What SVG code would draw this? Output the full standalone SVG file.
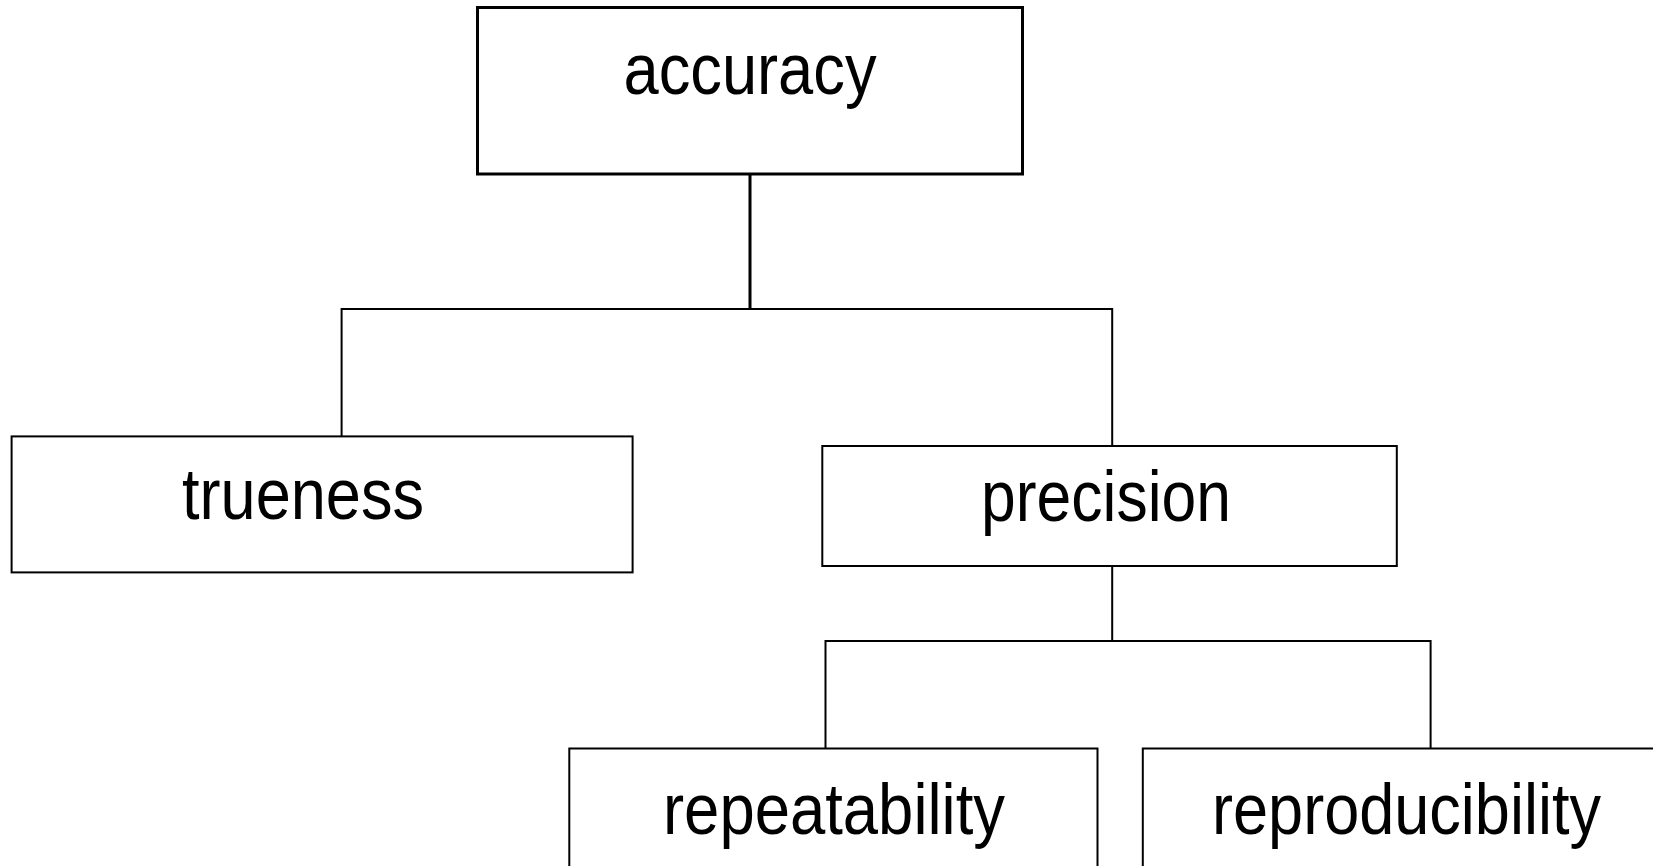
<svg xmlns="http://www.w3.org/2000/svg" width="1653" height="866" viewBox="0 0 1653 866">
<style>
.box{fill:#fff;stroke:#000;stroke-width:2}
.main{stroke-width:3}
.lbl{font-family:"Liberation Sans",Arial,sans-serif;font-size:72px;fill:#000}
.con{fill:none;stroke:#000;stroke-width:2}
</style>
<rect width="1653" height="866" fill="#fff"/>
<g id="connectors">
<path class="con" style="stroke-width:3" d="M750,174 V309"/>
<path class="con" d="M341.6,436 V309 H1112.2 V446"/>
<path class="con" d="M1112.2,566 V641"/>
<path class="con" d="M825.5,748.5 V641 H1430.6 V748.5"/>
</g>
<g id="accuracy">
<rect class="box main" x="477.5" y="7.5" width="545" height="166.5"/>
<text class="lbl" x="623.5" y="94" textLength="253" lengthAdjust="spacingAndGlyphs">accuracy</text>
</g>
<g id="trueness">
<rect class="box" x="11.6" y="436.4" width="621" height="136"/>
<text class="lbl" x="182" y="518.5" textLength="242" lengthAdjust="spacingAndGlyphs">trueness</text>
</g>
<g id="precision">
<rect class="box" x="822.3" y="446" width="574.5" height="120"/>
<text class="lbl" x="981" y="521" textLength="250" lengthAdjust="spacingAndGlyphs">precision</text>
</g>
<g id="repeatability">
<rect class="box" x="569.3" y="748.5" width="528.2" height="160"/>
<text class="lbl" x="663" y="834" textLength="342" lengthAdjust="spacingAndGlyphs">repeatability</text>
</g>
<g id="reproducibility">
<rect class="box" x="1142.8" y="748.5" width="560" height="160"/>
<text class="lbl" x="1212" y="834" textLength="389" lengthAdjust="spacingAndGlyphs">reproducibility</text>
</g>
</svg>
